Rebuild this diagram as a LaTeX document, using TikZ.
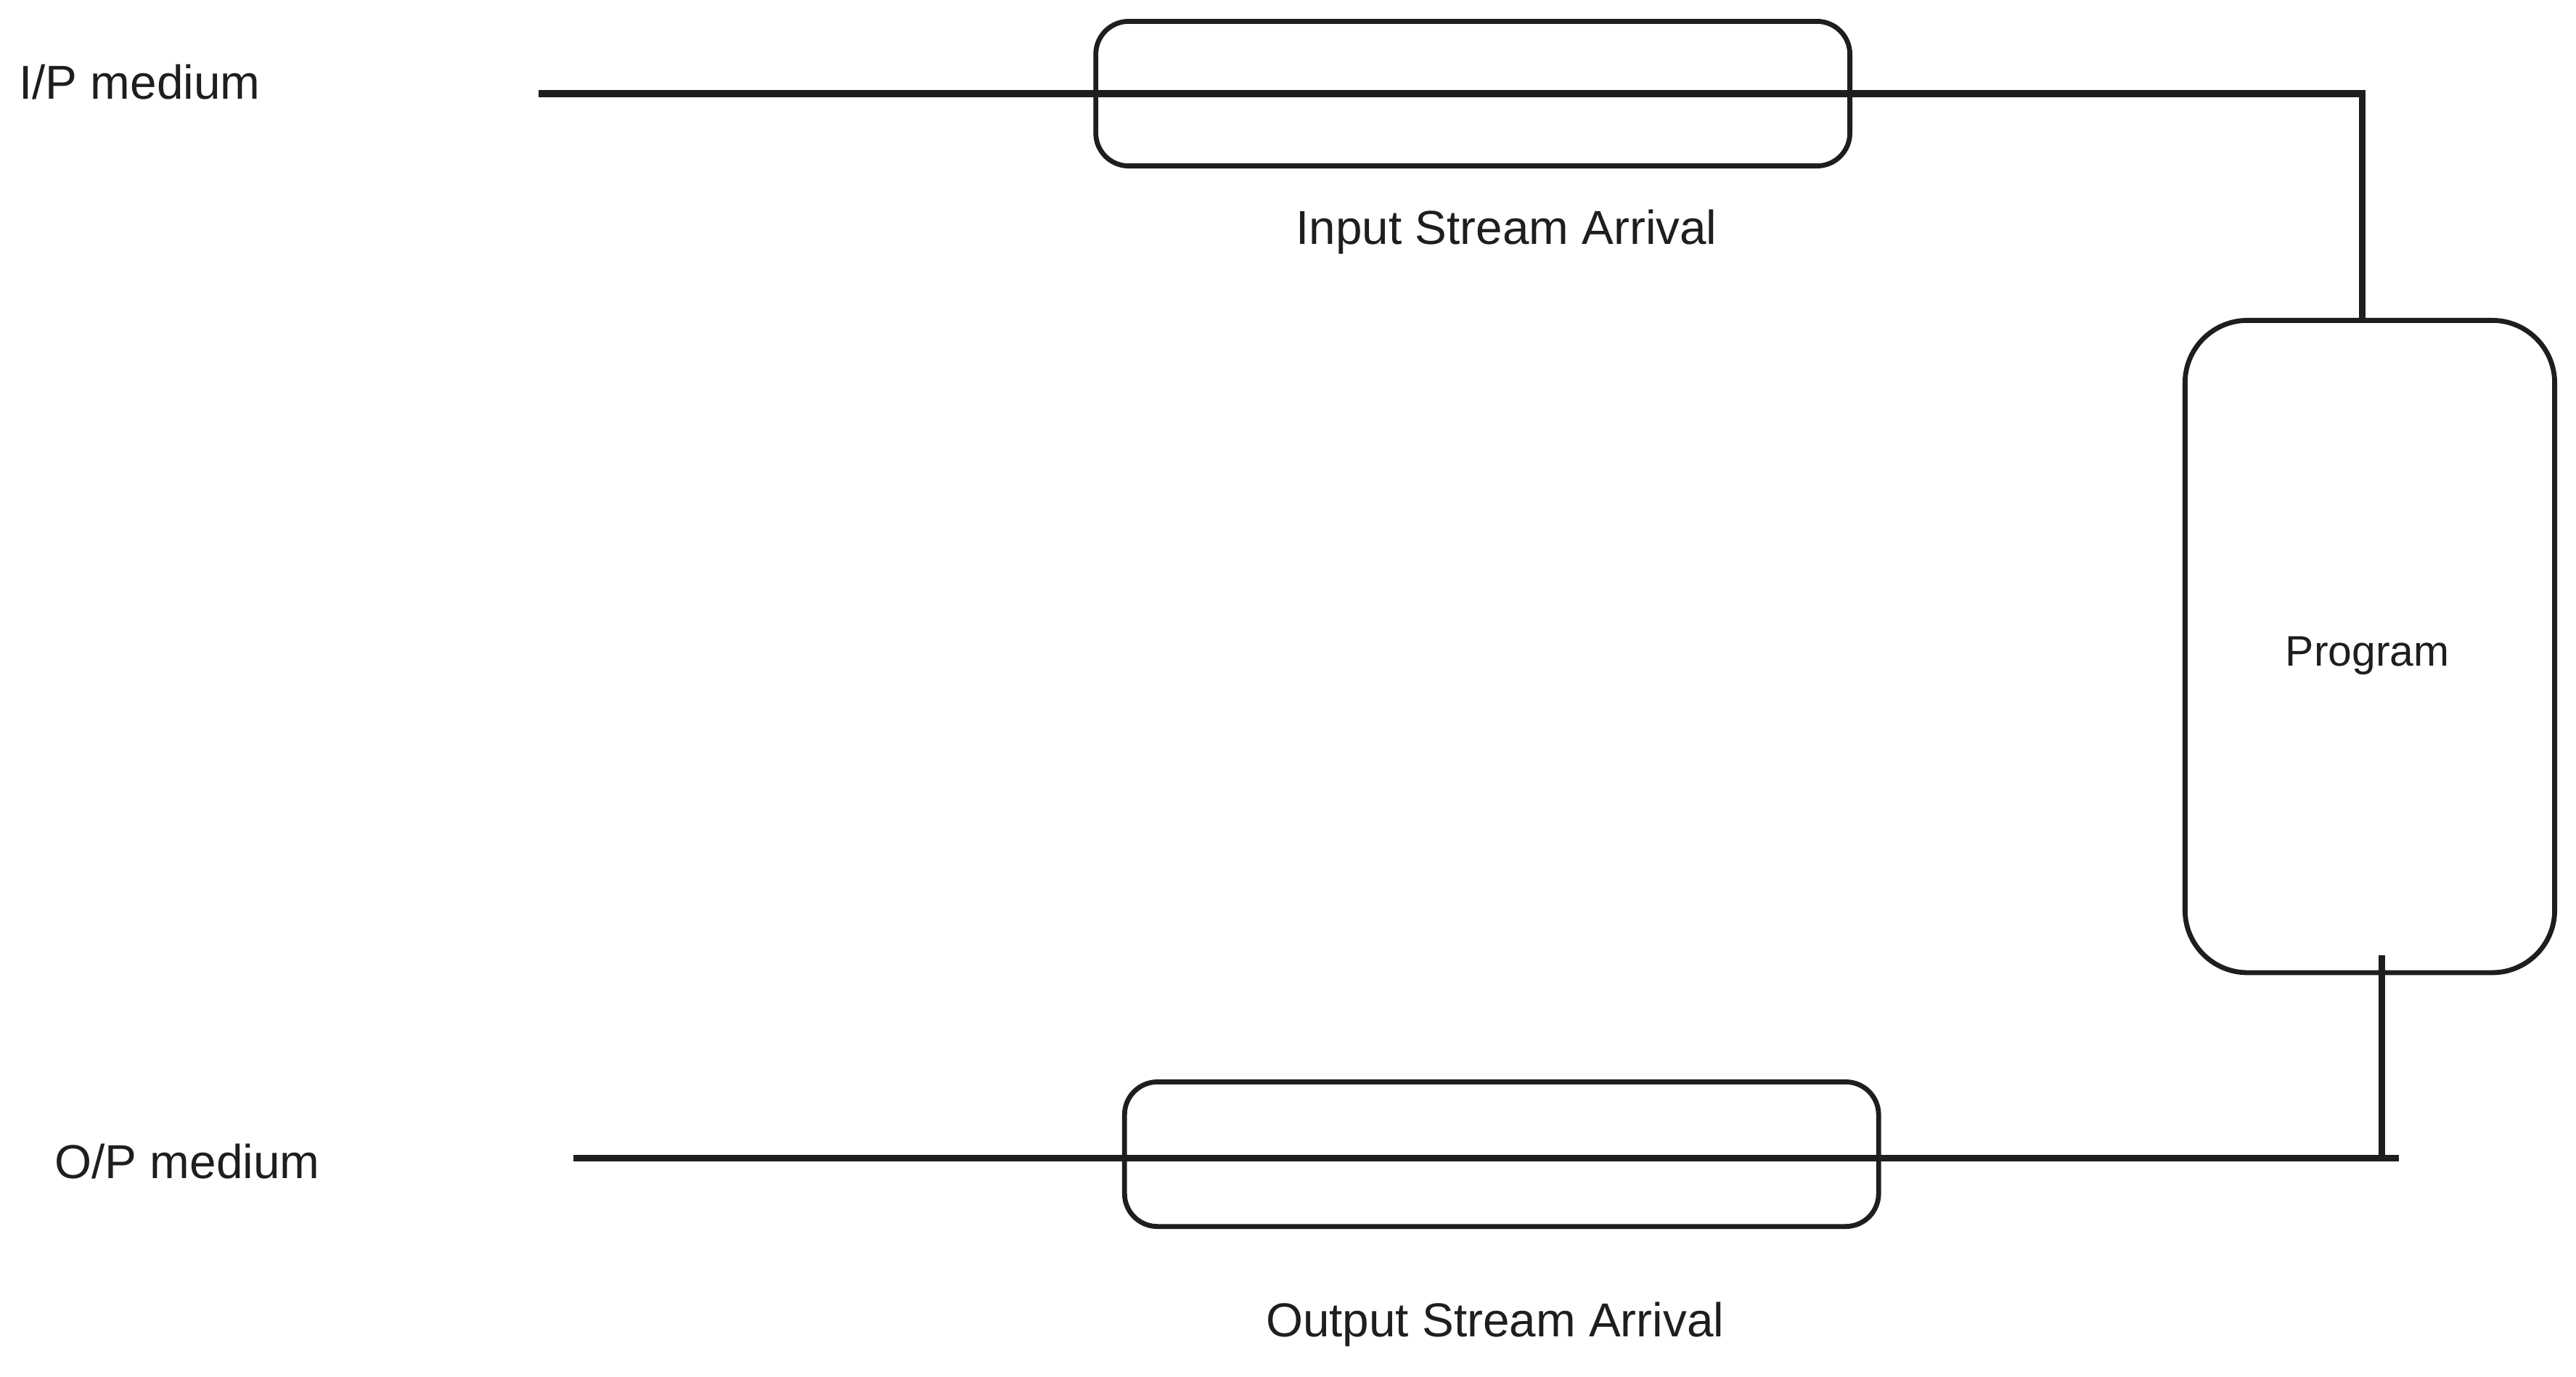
\documentclass[tikz,border=0pt]{standalone}
\usepackage{fontspec}
\setmainfont{Liberation Sans}
\usepackage{tikz}
\usetikzlibrary{calc,positioning}
\definecolor{ink}{HTML}{1E1E1E}

\begin{document}
\begin{tikzpicture}[x=1pt,y=-1pt,
		buffer/.style={draw=ink,line width=3pt,rounded corners=20pt,minimum width=459pt,minimum height=88pt},
		prog/.style={draw=ink,line width=3pt,rounded corners=38pt,minimum width=225pt,minimum height=397pt},
		wire/.style={draw=ink,line width=4pt},
		lbl/.style={text=ink,font=\fontsize{29}{34}\selectfont}]
		\useasboundingbox (0,0) rectangle (1568,838);
		% Coordinates
		\coordinate (ipstart) at (328,57);
		\coordinate (ipcorner) at (1438,57);
		\coordinate (opstart) at (349,705);
		\coordinate (opcorner) at (1450,705);
		\coordinate (opend) at (1460,705);
		% Buffers and program
		\node[buffer] (inbuf) at (896.5,57) {};
		\node[buffer] (outbuf) at (914,702.5) {};
		\node[prog] (program) at (1442.5,393.5) {};
		\node[text=ink,font=\fontsize{26}{30}\selectfont] (proglabel) at (1441,399) {Program};
		% Media lines
		\draw[wire] (ipstart) -- (ipcorner) -- (ipcorner |- program.north);
		\draw[wire] ($(opcorner |- program.south)+(0,-12)$) -- (opcorner);
		\draw[wire] (opstart) -- (opend);
		% Labels
		\node[lbl] (iplabel) at (85,50) {I/P medium};
		\node[lbl] (oplabel) at (114,707) {O/P medium};
		\node[lbl] (inlabel) at (917,141) {Input Stream Arrival};
		\node[lbl] (outlabel) at (910,806) {Output Stream Arrival};
	\end{tikzpicture}
\end{document}
